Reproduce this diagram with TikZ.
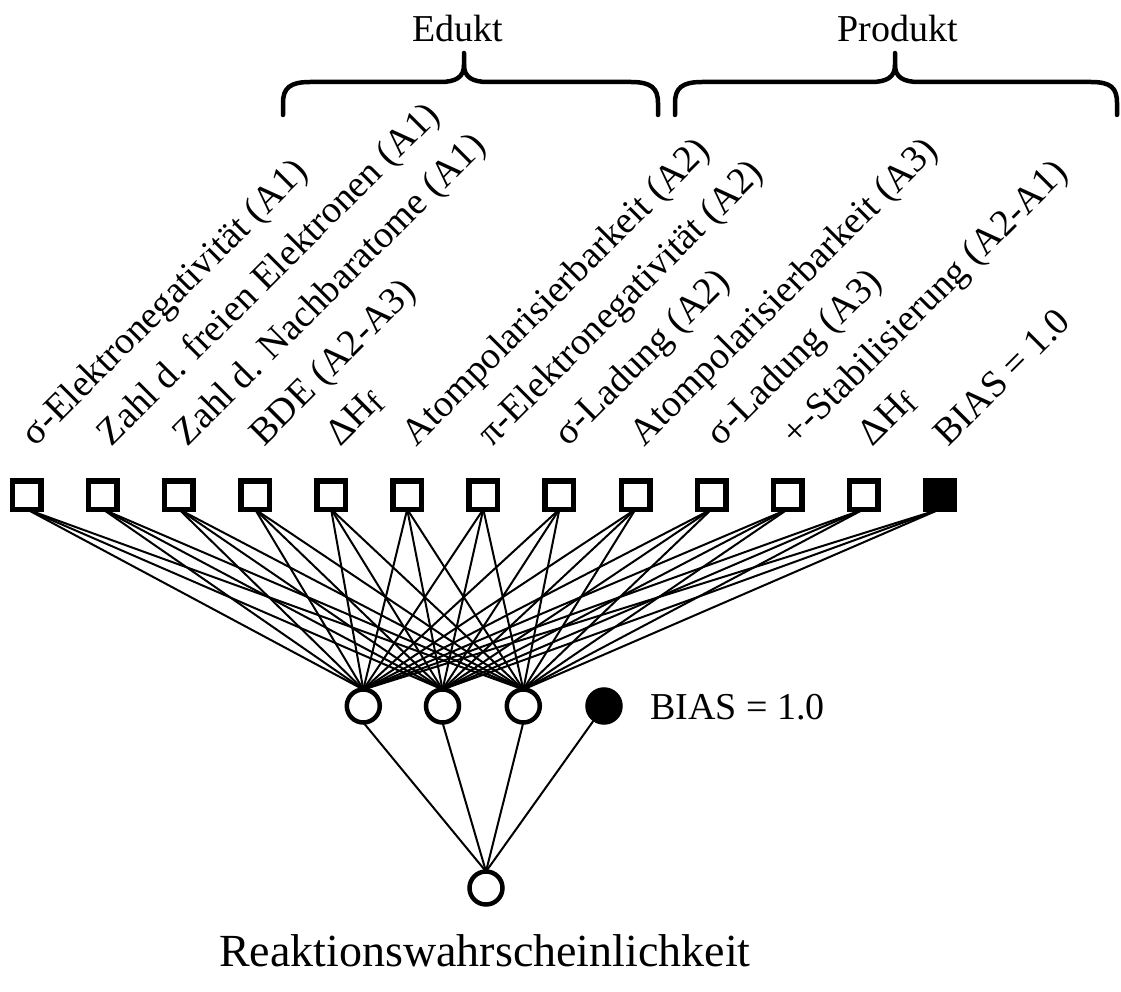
\documentclass[tikz,border=0pt]{standalone}
\usepackage{fontspec}
\setmainfont{Liberation Serif}
\begin{document}
\begin{tikzpicture}[x=1pt,y=-1pt,
  lbl/.style={font=\fontsize{38}{40}\selectfont, inner sep=0pt, outer sep=0pt},
  biglbl/.style={font=\fontsize{46}{48}\selectfont, inner sep=0pt, outer sep=0pt},
  rlbl/.style={lbl, rotate=45, anchor=base west},
  inbox/.style={draw, line width=5.5pt, minimum size=28.5pt, inner sep=0pt, outer sep=0pt},
  biasbox/.style={inbox, fill=black},
  neuron/.style={draw, circle, line width=4.5pt, minimum size=33pt, inner sep=0pt, outer sep=0pt},
  biasneuron/.style={neuron, fill=black},
  conn/.style={line width=2pt},
  brace/.style={line width=4.5pt, line cap=round}
]
\useasboundingbox (0,0) rectangle (1121,992);

% input layer
\foreach \i in {1,...,12} {
  \node[inbox] (s\i) at ({26.7+76.1*(\i-1)},495) {};
}
\node[biasbox] (s13) at ({26.7+76.1*12},495) {};

% rotated labels
\node[rlbl] (l1)  at ({26.7+76.1*0+9},447) {σ-Elektronegativität (A1)};
\node[rlbl] (l2)  at ({26.7+76.1*1+9},447) {Zahl d. freien Elektronen (A1)};
\node[rlbl] (l3)  at ({26.7+76.1*2+9},447) {Zahl d. Nachbaratome (A1)};
\node[rlbl] (l4)  at ({26.7+76.1*3+9},447) {BDE (A2-A3)};
\node[rlbl] (l5)  at ({26.7+76.1*4+9},447) {ΔH{\fontsize{32}{32}\selectfont\raisebox{-4pt}{f}}};
\node[rlbl] (l6)  at ({26.7+76.1*5+9},447) {Atompolarisierbarkeit (A2)};
\node[rlbl] (l7)  at ({26.7+76.1*6+9},447) {π-Elektronegativität (A2)};
\node[rlbl] (l8)  at ({26.7+76.1*7+9},447) {σ-Ladung (A2)};
\node[rlbl] (l9)  at ({26.7+76.1*8+9},447) {Atompolarisierbarkeit (A3)};
\node[rlbl] (l10) at ({26.7+76.1*9+9},447) {σ-Ladung (A3)};
\node[rlbl] (l11) at ({26.7+76.1*10+9},447) {+-Stabilisierung (A2-A1)};
\node[rlbl] (l12) at ({26.7+76.1*11+9},447) {ΔH{\fontsize{32}{32}\selectfont\raisebox{-4pt}{f}}};
\node[rlbl] (l13) at ({26.7+76.1*12+9},447) {BIAS = 1.0};

% hidden layer
\node[neuron] (h1) at (363.3,706) {};
\node[neuron] (h2) at (442.5,706) {};
\node[neuron] (h3) at (523.3,706) {};
\node[biasneuron] (hb) at (604,706) {};
\node[lbl, anchor=base west] (hbl) at (650,719) {BIAS = 1.0};

% output
\node[neuron] (o) at (486,888) {};
\node[biglbl, anchor=base] (ol) at (485,966) {Reaktionswahrscheinlichkeit};

% connections
\foreach \i in {1,...,13} {
  \foreach \j in {1,2,3} {
    \draw[conn] (s\i.south) -- (h\j.north);
  }
}
\foreach \j in {1,2,3} {
  \draw[conn] (h\j.south) -- (o.north);
}
\draw[conn] (hb) -- (o.north);

% braces
\draw[brace] (283,115) -- (283,103) .. controls (283,88) and (290,82) .. (310,82)
  -- (440,82) .. controls (456,82) and (464,77) .. (464,65) -- (464,53);
\draw[brace] (464,65) .. controls (464,77) and (472,82) .. (488,82)
  -- (631,82) .. controls (651,82) and (658,88) .. (658,103) -- (658,115);
\node[lbl, anchor=base] (ed) at (458,42) {Edukt};

\draw[brace] (675,115) -- (675,103) .. controls (675,88) and (682,82) .. (702,82)
  -- (871,82) .. controls (887,82) and (895,77) .. (895,65) -- (895,53);
\draw[brace] (895,65) .. controls (895,77) and (903,82) .. (919,82)
  -- (1091,82) .. controls (1111,82) and (1117,88) .. (1117,103) -- (1117,115);
\node[lbl, anchor=base] (pr) at (898,42) {Produkt};
\end{tikzpicture}
\end{document}
